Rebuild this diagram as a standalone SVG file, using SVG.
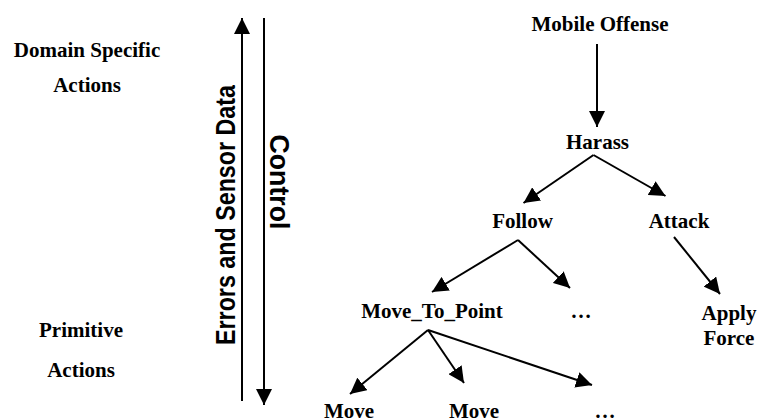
<svg xmlns="http://www.w3.org/2000/svg" width="757" height="419" viewBox="0 0 757 419">
  <style>
    .lbl { font-family: "Liberation Serif", "Times New Roman", serif; font-weight: bold; font-size: 21px; fill: #000; text-anchor: middle; }
    .axis { font-family: "Liberation Sans", Arial, sans-serif; font-weight: bold; font-size: 27px; fill: #000; text-anchor: middle; }
    .edge { stroke: #000; stroke-width: 2; fill: none; marker-end: url(#head); }
  </style>
  <defs>
    <marker id="head" markerUnits="userSpaceOnUse" markerWidth="16" markerHeight="16" refX="15" refY="7.5" orient="auto" viewBox="0 0 15 15">
      <path d="M0,0 L15,7.5 L0,15 Z" fill="#000"/>
    </marker>
  </defs>

  <rect width="757" height="419" fill="#fff"/>

  <!-- level labels on the left -->
  <g id="level-domain">
    <text class="lbl" x="87" y="57">Domain Specific</text>
    <text class="lbl" x="87" y="92">Actions</text>
  </g>
  <g id="level-primitive">
    <text class="lbl" x="81" y="337">Primitive</text>
    <text class="lbl" x="81" y="377">Actions</text>
  </g>

  <!-- feedback / control rails -->
  <g id="rail-feedback">
    <line class="edge" x1="242" y1="401" x2="242" y2="18"/>
    <text class="axis" transform="translate(235,215) rotate(-90)" x="0" y="0" textLength="260" lengthAdjust="spacingAndGlyphs">Errors and Sensor Data</text>
  </g>
  <g id="rail-control">
    <line class="edge" x1="264" y1="18" x2="264" y2="405"/>
    <text class="axis" transform="translate(270,182) rotate(90)" x="0" y="0" textLength="95" lengthAdjust="spacingAndGlyphs">Control</text>
  </g>

  <!-- behaviour tree nodes -->
  <g id="mobile-offense"><text class="lbl" x="600" y="31">Mobile Offense</text></g>
  <g id="harass"><text class="lbl" x="597.5" y="149">Harass</text></g>
  <g id="follow"><text class="lbl" x="522.5" y="228">Follow</text></g>
  <g id="attack"><text class="lbl" x="679" y="228">Attack</text></g>
  <g id="move-to-point"><text class="lbl" x="432" y="318">Move_To_Point</text></g>
  <g id="follow-more"><text class="lbl" x="581" y="318">…</text></g>
  <g id="apply-force">
    <text class="lbl" x="729" y="320">Apply</text>
    <text class="lbl" x="729" y="345">Force</text>
  </g>
  <g id="move-a"><text class="lbl" x="349" y="418">Move</text></g>
  <g id="move-b"><text class="lbl" x="474" y="418">Move</text></g>
  <g id="move-more"><text class="lbl" x="605" y="418">…</text></g>

  <!-- tree connectors -->
  <g id="connectors">
    <line class="edge" x1="597" y1="44" x2="597" y2="127"/>
    <line class="edge" x1="593.5" y1="155" x2="523.5" y2="203"/>
    <line class="edge" x1="593.5" y1="155" x2="665.5" y2="196"/>
    <line class="edge" x1="518" y1="240" x2="432" y2="292"/>
    <line class="edge" x1="518" y1="240" x2="570" y2="288"/>
    <line class="edge" x1="674" y1="237" x2="720" y2="294"/>
    <line class="edge" x1="428" y1="330" x2="350" y2="394"/>
    <line class="edge" x1="428" y1="330" x2="464" y2="383"/>
    <line class="edge" x1="428" y1="330" x2="592" y2="385"/>
  </g>
</svg>
